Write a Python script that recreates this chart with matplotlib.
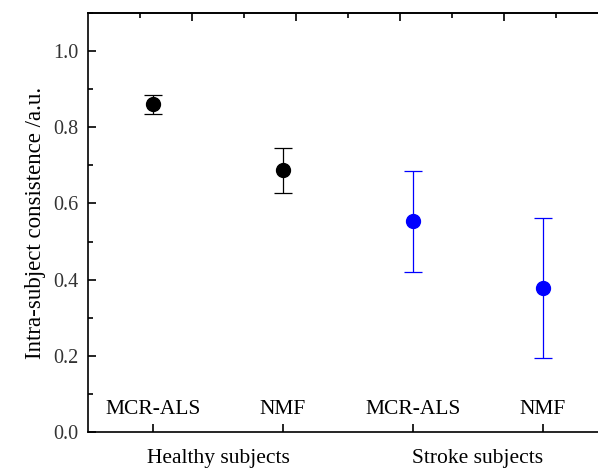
import numpy as np
import matplotlib
matplotlib.use("Agg")
from matplotlib import pyplot as plt
from matplotlib.ticker import MultipleLocator, FixedLocator

plt.rcParams['font.family'] = ['Liberation Serif', 'DejaVu Serif']

# values
methods = ["MCR-ALS", "NMF", "MCR-ALS", "NMF"]
groups = ["Healthy subjects", "Stroke subjects"]
means = [0.861, 0.687, 0.553, 0.377]
errs = [0.025, 0.059, 0.132, 0.184]
colors = ["black", "black", "blue", "blue"]

x = np.arange(1, len(means) + 1)

fig = plt.figure(figsize=(5.98, 4.68), dpi=100)
ax = fig.add_axes([88/598, 36/468, 520/598, 419/468])

for i in range(len(means)):
    ax.errorbar(x[i], means[i], yerr=errs[i], fmt='o', color=colors[i],
                ecolor=colors[i], elinewidth=0.9, capsize=6.5, capthick=0.9,
                markersize=10, zorder=3)

ax.set_xlim(0.5, 4.5)
ax.set_ylim(0, 1.1)

ax.yaxis.set_major_locator(MultipleLocator(0.2))
ax.yaxis.set_minor_locator(MultipleLocator(0.1))
ax.set_yticklabels(["{:.1f}".format(v) for v in ax.get_yticks()], color='#333333')

ax.set_xticks(x)
ax.set_xticklabels([])
ax.tick_params(axis='x', which='major', direction='in', length=6, width=1.2, bottom=True, top=False)
ax.tick_params(axis='y', which='major', direction='in', length=6, width=1.2, labelsize=14.5, pad=7)
ax.tick_params(axis='y', which='minor', direction='in', length=3.5, width=1.2)
ax.tick_params(axis='x', which='minor', bottom=False)

# top axis carries its own tick set
top = ax.secondary_xaxis('top')
top.xaxis.set_major_locator(FixedLocator([0.5 + 0.8 * k for k in range(1, 5)]))
top.xaxis.set_minor_locator(FixedLocator([0.5 + 0.4 + 0.8 * k for k in range(0, 5)]))
top.tick_params(which='major', direction='in', length=6, width=1.2, labeltop=False)
top.tick_params(which='minor', direction='in', length=3.5, width=1.2)
top.spines['top'].set_linewidth(1.2)

for s in ax.spines.values():
    s.set_linewidth(1.2)

for xi, m in zip(x, methods):
    ax.text(xi, 0.058, m, ha='center', va='center', fontsize=15.5)

for k, g in enumerate(groups):
    ax.text(x[2 * k] + 0.5, -0.07, g, ha='center', va='center', fontsize=15.5,
            clip_on=False)

ax.set_ylabel("Intra-subject consistence /a.u.", fontsize=16.5, labelpad=5)

fig.savefig("out.png", dpi=100)
